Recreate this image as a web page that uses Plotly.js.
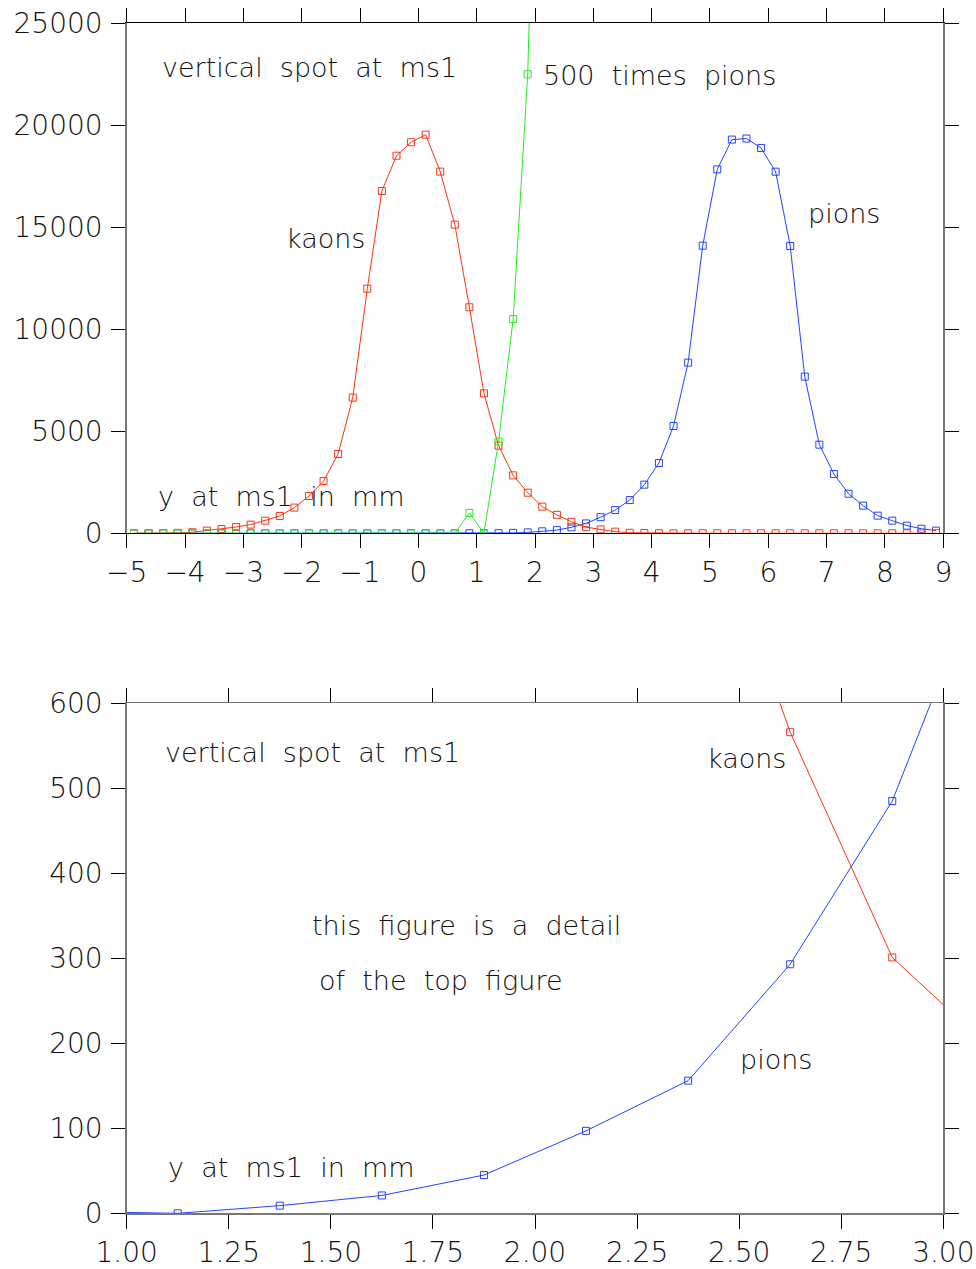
<!DOCTYPE html>
<html>
<head>
<meta charset="utf-8">
<script src="https://cdn.plot.ly/plotly-3.0.1.min.js"></script>
<style>html,body{margin:0;padding:0;background:#fff;}#chart{width:976px;height:1269px;}</style>
</head>
<body>
<div id="chart"></div>
<script>
// y position at ms1 (mm)
const yPos = [-4.875,-4.625,-4.375,-4.125,-3.875,-3.625,-3.375,-3.125,-2.875,-2.625,
  -2.375,-2.125,-1.875,-1.625,-1.375,-1.125,-0.875,-0.625,-0.375,-0.125,
  0.125,0.375,0.625,0.875,1.125,1.375,1.625,1.875,2.125,2.375,
  2.625,2.875,3.125,3.375,3.625,3.875,4.125,4.375,4.625,4.875,
  5.125,5.375,5.625,5.875,6.125,6.375,6.625,6.875,7.125,7.375,
  7.625,7.875,8.125,8.375,8.625,8.875];
const kaons = [0,0,10,20,50,130,210,310,425,620,
  850,1260,1830,2560,3890,6650,11990,16780,18510,19170,
  19540,17730,15130,11080,6860,4295,2840,1990,1305,906,
  566,301,190,80,25,15,5,0,0,0,
  0,0,0,0,0,0,0,0,0,0,
  0,0,0,0,0,0];
const pions = [0,0,0,0,0,0,0,0,0,0,
  0,0,0,0,0,0,0,0,0,0,
  0,0,0,2,0,9,21,45,97,156,
  293,485,790,1140,1630,2385,3445,5260,8365,14100,
  17840,19300,19350,18890,17725,14085,7680,4345,2905,1940,
  1355,865,620,375,225,130];
// 500 times pions (visible part)
const pions500X = yPos.slice(0, 29);
const pions500 = [0,0,0,0,0,0,0,0,0,0,
  0,0,0,0,0,0,0,0,0,0,
  0,0,0,1000,0,4500,10500,22500,48500];

const topXTicks = [-5,-4,-3,-2,-1,0,1,2,3,4,5,6,7,8,9];
const topYTicks = [0,5000,10000,15000,20000,25000];
const botXTicks = [1.00,1.25,1.50,1.75,2.00,2.25,2.50,2.75,3.00];
const botYTicks = [0,100,200,300,400,500,600];

const RED = '#ff3311', BLUE = '#2244ff', GREEN = '#22ee22';
const FONT = '"DejaVu Sans ExtraLight", "DejaVu Sans Light", "DejaVu Sans", sans-serif';
const TXT = '#111';

function tr(x, y, color, xa, ya) {
  return {x: x, y: y, xaxis: xa, yaxis: ya, type: 'scatter', mode: 'lines+markers',
    line: {color: color, width: 1}, cliponaxis: true,
    marker: {symbol: 'square-open', size: 7, color: color, line: {width: 1, color: color}},
    showlegend: false};
}

const data = [
  tr(yPos, pions, BLUE, 'x', 'y'),
  tr(yPos, kaons, RED, 'x', 'y'),
  tr(pions500X, pions500, GREEN, 'x', 'y'),
  tr(yPos, pions, BLUE, 'x2', 'y2'),
  tr(yPos, kaons, RED, 'x2', 'y2')
];

const tickFont = {family: FONT, size: 28, color: TXT};
function axis(extra) {
  return Object.assign({
    showline: true, linecolor: '#000', linewidth: 1, mirror: 'ticks',
    ticks: 'outside', ticklen: 14, tickwidth: 1, tickcolor: '#000',
    showgrid: false, zeroline: false, tickfont: tickFont, automargin: false,
    fixedrange: true
  }, extra);
}

const xd = [126.7/976, 943.3/976];
const layout = {
  width: 976, height: 1269,
  margin: {l: 0, r: 0, t: 0, b: 0},
  paper_bgcolor: '#fff', plot_bgcolor: '#fff',
  showlegend: false,
  xaxis: axis({domain: xd, range: [-5, 9], tickvals: topXTicks, anchor: 'y'}),
  yaxis: axis({domain: [(1269-533.3)/1269, (1269-23.3)/1269], range: [0, 25000],
    tickvals: topYTicks, tickformat: 'd', anchor: 'x', linecolor: '#777', linewidth: 1.5,
    ticklabelstandoff: 3}),
  xaxis2: axis({domain: xd, range: [1, 3], tickvals: botXTicks, tickformat: '.2f', anchor: 'y2',
    linecolor: '#777', linewidth: 1.5}),
  yaxis2: axis({domain: [(1269-1213.3)/1269, (1269-703.3)/1269], range: [0, 600],
    tickvals: botYTicks, tickformat: 'd', anchor: 'x2', linecolor: '#777', linewidth: 1.5,
    ticklabelstandoff: 3}),
  annotations: []
};

function ann(text, x, y, xr, yr) {
  return {text: text, x: x, y: y, xref: xr, yref: yr, xanchor: 'left', yanchor: 'middle',
    showarrow: false, font: {family: FONT, size: 27, color: TXT}};
}
const S = '\u00a0\u00a0';
layout.annotations.push(
  ann('vertical' + S + 'spot' + S + 'at' + S + 'ms1', -4.43, 22810, 'x', 'y'),
  ann('500' + S + 'times' + S + 'pions', 2.10, 22465, 'x', 'y'),
  ann('kaons', -2.31, 14475, 'x', 'y'),
  ann('pions', 6.65, 15700, 'x', 'y'),
  ann('y' + S + 'at' + S + 'ms1' + S + 'in' + S + 'mm', -4.49, 1785, 'x', 'y'),
  ann('vertical' + S + 'spot' + S + 'at' + S + 'ms1', 1.089, 542, 'x2', 'y2'),
  ann('kaons', 2.417, 535, 'x2', 'y2'),
  ann('this' + S + 'figure' + S + 'is' + S + 'a' + S + 'detail', 1.449, 339, 'x2', 'y2'),
  ann('of' + S + 'the' + S + 'top' + S + 'figure', 1.466, 274, 'x2', 'y2'),
  ann('pions', 2.497, 181, 'x2', 'y2'),
  ann('y' + S + 'at' + S + 'ms1' + S + 'in' + S + 'mm', 1.097, 54, 'x2', 'y2')
);

Plotly.newPlot('chart', data, layout, {staticPlot: true, displayModeBar: false});
</script>
</body>
</html>
